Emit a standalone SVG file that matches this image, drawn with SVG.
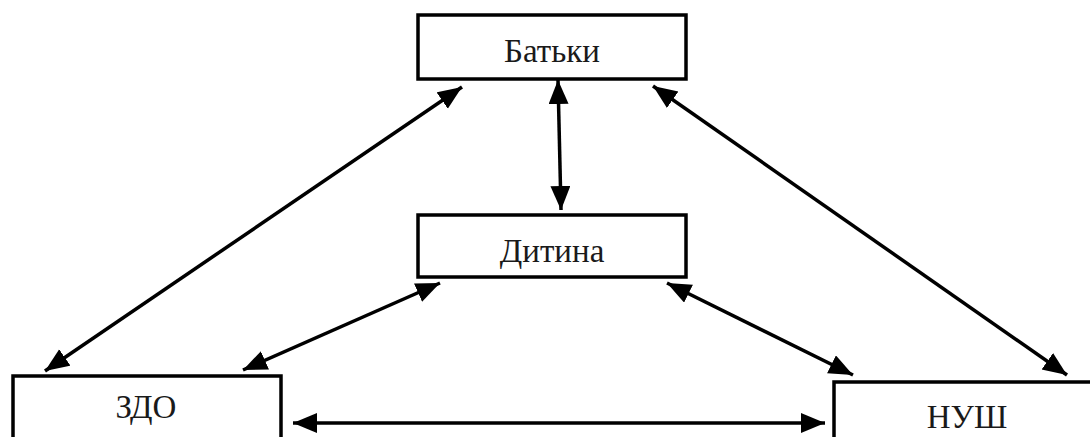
<svg xmlns="http://www.w3.org/2000/svg" width="1090" height="437" viewBox="0 0 1090 437">
<defs>
<style>
.box{fill:#fff;stroke:#000;stroke-width:3.5}
.lbl{font-family:"Liberation Serif","DejaVu Serif",serif;font-size:33px;fill:#1a1a1a;text-anchor:middle}
.con{stroke:#000;stroke-width:3.5;fill:none;marker-start:url(#ah);marker-end:url(#ah)}
</style>
<marker id="ah" markerUnits="userSpaceOnUse" markerWidth="26" markerHeight="22" refX="24" refY="10" orient="auto-start-reverse" viewBox="0 0 26 22">
<path d="M0,0 L24,10 L0,20 z" fill="#000"/>
</marker>
</defs>
<rect width="1090" height="437" fill="#fff"/>
<g id="node-batky"><rect class="box" x="418" y="15" width="268" height="64"/><text class="lbl" x="552" y="62">Батьки</text></g>
<g id="node-dytyna"><rect class="box" x="418" y="215" width="268" height="62"/><text class="lbl" x="552" y="262">Дитина</text></g>
<g id="node-zdo"><rect class="box" x="13" y="376" width="268" height="80"/><text class="lbl" x="146" y="418">ЗДО</text></g>
<g id="node-nush"><rect class="box" x="834" y="382" width="270" height="80"/><text class="lbl" x="967" y="428">НУШ</text></g>
<g id="connectors">
<line class="con" x1="462" y1="87" x2="45" y2="371"/>
<line class="con" x1="558" y1="80" x2="561" y2="210"/>
<line class="con" x1="653" y1="86" x2="1067" y2="375"/>
<line class="con" x1="440" y1="283" x2="243" y2="370"/>
<line class="con" x1="667" y1="283" x2="853" y2="375"/>
<line class="con" x1="293" y1="423" x2="825" y2="423"/>
</g>
</svg>
